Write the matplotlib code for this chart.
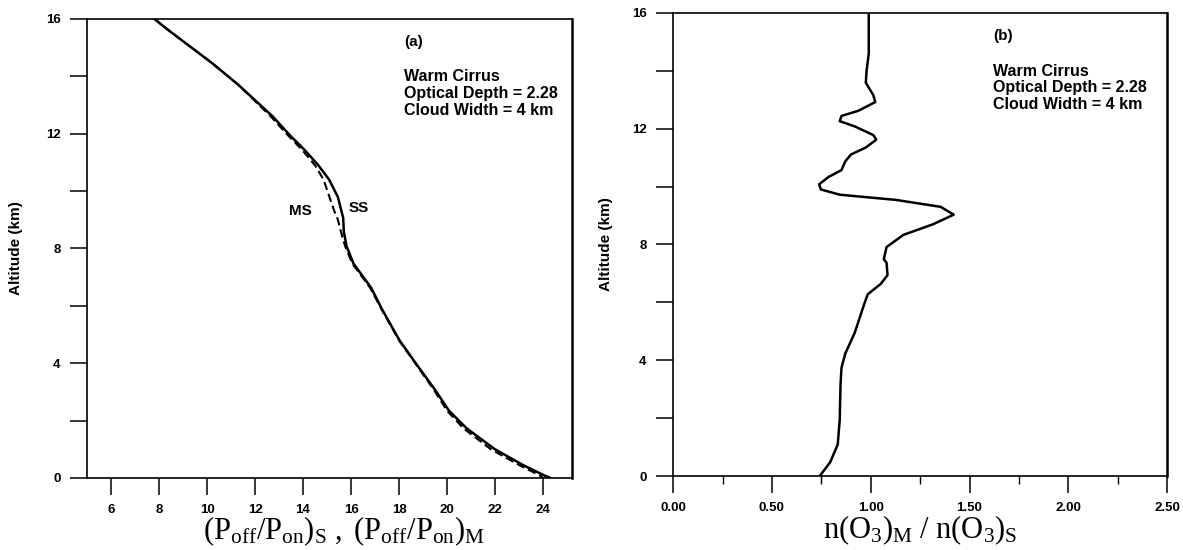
import numpy as np
import matplotlib.pyplot as plt
from matplotlib.ticker import MultipleLocator, FormatStrFormatter

plt.rcParams['font.family'] = 'Liberation Sans'
plt.rcParams['mathtext.fontset'] = 'custom'
plt.rcParams['mathtext.rm'] = 'Liberation Serif'
plt.rcParams['mathtext.it'] = 'Liberation Serif:italic'

# panel (a): lidar power ratio, single scattering (SS) vs multiple scattering (MS)
alt_ss = [16.0, 15.66, 14.44, 13.7, 12.6, 11.93, 11.44, 10.89, 10.4, 9.79, 9.06,
          8.57, 8.08, 7.47, 6.62, 5.89, 4.79, 3.93, 3.08, 2.34, 1.73, 1.0, 0.45, 0.09, 0.0]
ratio_ss = [7.8, 8.3, 10.23, 11.3, 12.73, 13.46, 14.05, 14.64, 15.08, 15.45, 15.67,
            15.7, 15.81, 16.1, 16.84, 17.28, 18.02, 18.75, 19.49, 20.08, 20.81, 21.99, 23.16, 24.04, 24.3]

alt_ms = [16.0, 15.66, 14.44, 13.7, 12.6, 11.93, 11.44, 10.89, 10.4, 9.79, 9.3, 9.0,
          8.57, 8.08, 7.47, 6.62, 5.89, 4.79, 3.93, 3.08, 2.34, 1.73, 1.0, 0.45, 0.09, 0.0]
ratio_ms = [7.8, 8.3, 10.23, 11.3, 12.65, 13.38, 13.95, 14.5, 14.85, 15.1, 15.3, 15.45,
            15.58, 15.75, 16.05, 16.8, 17.26, 18.0, 18.73, 19.44, 20.0, 20.68, 21.82, 23.0, 23.85, 24.0]

# panel (b): ozone retrieval ratio
alt_o3 = [0.0, 0.48, 1.09, 1.93, 3.14, 3.74, 4.23, 4.95, 5.92, 6.28, 6.64, 6.94, 7.37,
          7.49, 7.91, 8.33, 8.70, 9.03, 9.30, 9.54, 9.72, 9.90, 10.08, 10.33, 10.57,
          10.87, 11.11, 11.35, 11.62, 11.78, 12.08, 12.26, 12.44, 12.62, 12.92, 13.16,
          13.59, 14.0, 14.6, 15.46, 16.0]
o3_ratio = [0.742, 0.795, 0.833, 0.843, 0.847, 0.852, 0.871, 0.919, 0.966, 0.985, 1.051,
            1.085, 1.08, 1.066, 1.08, 1.165, 1.316, 1.42, 1.354, 1.127, 0.843, 0.748,
            0.739, 0.786, 0.852, 0.871, 0.9, 0.975, 1.028, 1.013, 0.919, 0.843, 0.852,
            0.9375, 1.023, 1.013, 0.975, 0.979, 0.99, 0.99, 0.99]

info = "Warm Cirrus\nOptical Depth = 2.28\nCloud Width = 4 km"

fig = plt.figure(figsize=(11.83, 5.5), dpi=100)
ax1 = fig.add_axes([0.0735, 0.131, 0.41, 0.835])
ax2 = fig.add_axes([0.569, 0.1345, 0.4176, 0.842])

ax1.plot(ratio_ss, alt_ss, color='black', lw=1.8)
ax1.plot(ratio_ms, alt_ms, color='black', lw=1.5, ls=(0, (4, 2)))
ax1.set_xlim(5, 25.2)
ax1.set_ylim(0, 16)
ax1.xaxis.set_major_locator(MultipleLocator(2))
ax1.xaxis.set_major_formatter(FormatStrFormatter('%d'))
ax1.text(13.9, 9.3, 'MS', fontsize=11, fontweight='bold', ha='center', va='center')
ax1.text(16.3, 9.4, 'SS', fontsize=11, fontweight='bold', ha='center', va='center')
ax1.text(18.2, 15.2, '(a)', fontsize=11, fontweight='bold', va='center')
ax1.text(18.2, 14.25, info, fontsize=11.5, fontweight='bold', va='top', linespacing=1.15)
ax1.set_xlabel(r'$\mathrm{(P_{off}/P_{on})_S\ ,\ (P_{off}/P_{on})_M}$', fontsize=22)

ax2.plot(o3_ratio, alt_o3, color='black', lw=1.8)
ax2.set_xlim(0, 2.5)
ax2.set_ylim(0, 16)
ax2.xaxis.set_major_locator(MultipleLocator(0.5))
ax2.xaxis.set_minor_locator(MultipleLocator(0.25))
ax2.xaxis.set_major_formatter(FormatStrFormatter('%.2f'))
ax2.text(1.62, 15.2, '(b)', fontsize=11, fontweight='bold', va='center')
ax2.text(1.62, 14.25, info, fontsize=11.5, fontweight='bold', va='top', linespacing=1.15)
ax2.set_xlabel(r'$\mathrm{n(O_3)_M\ /\ n(O_3)_S}$', fontsize=22)

for ax in (ax1, ax2):
    ax.yaxis.set_major_locator(MultipleLocator(4))
    ax.yaxis.set_minor_locator(MultipleLocator(2))
    ax.tick_params(axis='both', which='major', direction='out', length=12, width=1.1,
                   labelsize=9.5, pad=7)
    ax.tick_params(axis='x', which='minor', direction='out', length=6, width=1.0)
    ax.tick_params(axis='y', which='minor', direction='out', length=12, width=1.1)
    ax.tick_params(top=False, right=False)
    for lbl in ax.get_xticklabels() + ax.get_yticklabels():
        lbl.set_fontweight('bold')
    for s in ax.spines.values():
        s.set_linewidth(1.2)
    ax.spines['right'].set_linewidth(1.8)
    ax.set_ylabel('Altitude (km)', fontsize=11, fontweight='bold')
    ax.xaxis.set_label_coords(0.5, -0.08)

ax1.xaxis.set_label_coords(0.53, -0.08)
ax1.yaxis.set_label_coords(-0.132, 0.5)
ax2.yaxis.set_label_coords(-0.121, 0.5)

fig.savefig('out.png', dpi=100)
